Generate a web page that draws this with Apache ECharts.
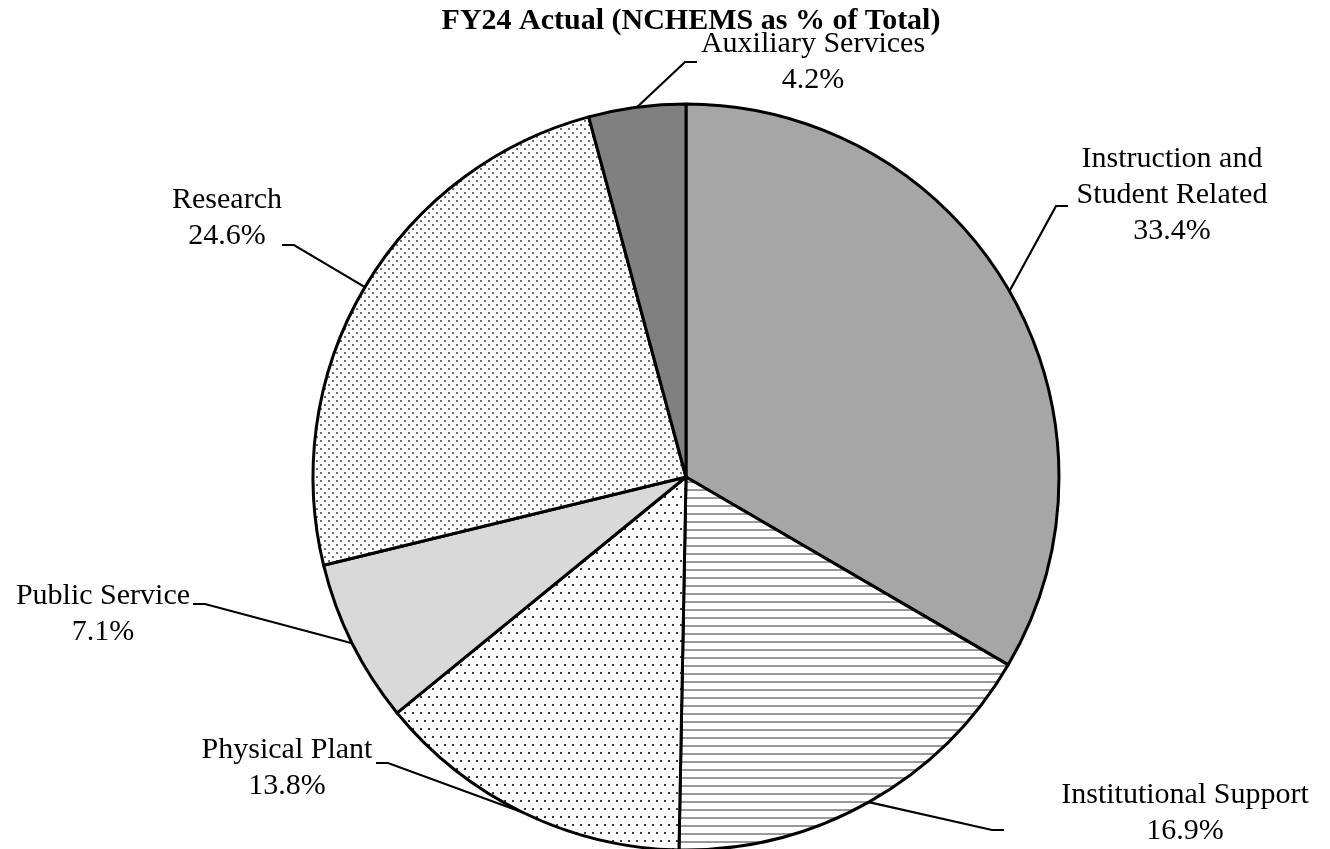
<!DOCTYPE html>
<html>
<head>
<meta charset="utf-8">
<script src="https://cdn.jsdelivr.net/npm/echarts@6/dist/echarts.min.js"></script>
<style>
  html, body { margin: 0; padding: 0; background: #fff; }
  #chart { width: 1330px; height: 849px; }
</style>
</head>
<body>
<div id="chart"></div>
<script>
// slices, clockwise from 12 o'clock
const categories = [
  'Instruction and Student Related',
  'Institutional Support',
  'Physical Plant',
  'Public Service',
  'Research',
  'Auxiliary Services'
];
const shares = [33.4, 16.9, 13.8, 7.1, 24.6, 4.2];

// fill for each slice: plain grey or a pattern
const fills = ['#a6a6a6', 'hlines', 'sparseDots', '#d9d9d9', 'denseDots', '#808080'];

// label boxes (centre x, top y, box width, padding) so the leader meets the text like the original
const labelBoxes = [
  { x: 1172, y: 141, w: 208, pad: [0, 0, 22, 0] },
  { x: 1185, y: 777, w: 362, pad: [0, 0, 34, 0] },
  { x: 287, y: 722, w: 178, pad: [10, 0, 0, 0] },
  { x: 103, y: 558, w: 180, pad: [20, 0, 0, 0] },
  { x: 227, y: 182, w: 88, pad: [0, 0, 54, 0] },
  { x: 813, y: 26, w: 232, pad: [0, 0, 0, 0] }
];

const serif = "'Liberation Serif', 'Times New Roman', serif";

// small canvas tiles used as fill patterns
function makeTile(w, h, draw) {
  const c = document.createElement('canvas');
  c.width = w;
  c.height = h;
  const ctx = c.getContext('2d');
  ctx.fillStyle = '#fff';
  ctx.fillRect(0, 0, w, h);
  draw(ctx);
  return { image: c, repeat: 'repeat' };
}

const patterns = {
  hlines: makeTile(8, 8, ctx => {
    ctx.fillStyle = '#999';
    ctx.fillRect(0, 1, 8, 2);
  }),
  sparseDots: makeTile(8, 16, ctx => {
    ctx.fillStyle = '#3a3a3a';
    ctx.fillRect(0, 0, 2, 2);
    ctx.fillRect(4, 8, 2, 2);
  }),
  denseDots: makeTile(8, 8, ctx => {
    ctx.fillStyle = '#707070';
    ctx.fillRect(0, 0, 2, 2);
    ctx.fillRect(4, 4, 2, 2);
  })
};

const chart = echarts.init(document.getElementById('chart'));

chart.setOption({
  animation: false,
  backgroundColor: '#fff',
  title: {
    text: 'FY24 Actual (NCHEMS as % of Total)',
    left: 686,
    textAlign: 'center',
    top: 1,
    textStyle: { fontFamily: serif, fontSize: 30, fontWeight: 'bold', color: '#000' }
  },
  series: [
    {
      type: 'pie',
      center: [686, 477],
      radius: 373,
      startAngle: 90,
      clockwise: true,
      avoidLabelOverlap: false,
      silent: true,
      percentPrecision: 1,
      itemStyle: { borderColor: '#000', borderWidth: 3 },
      label: {
        show: true,
        position: 'outside',
        fontFamily: serif,
        fontSize: 30,
        lineHeight: 36,
        color: '#000',
        overflow: 'none',
        formatter: p => p.name.replace('and ', 'and\n') + '\n' + p.value.toFixed(1) + '%'
      },
      labelLine: {
        show: true,
        length: 15,
        length2: 12,
        lineStyle: { color: '#000', width: 2.2 }
      },
      labelLayout: p => {
        const b = labelBoxes[p.dataIndex];
        return { x: b.x, y: b.y, align: 'center', verticalAlign: 'top' };
      },
      data: categories.map((name, i) => ({
        name: name,
        value: shares[i],
        itemStyle: { color: patterns[fills[i]] || fills[i] },
        label: { width: labelBoxes[i].w, padding: labelBoxes[i].pad }
      }))
    }
  ]
});
</script>
</body>
</html>
